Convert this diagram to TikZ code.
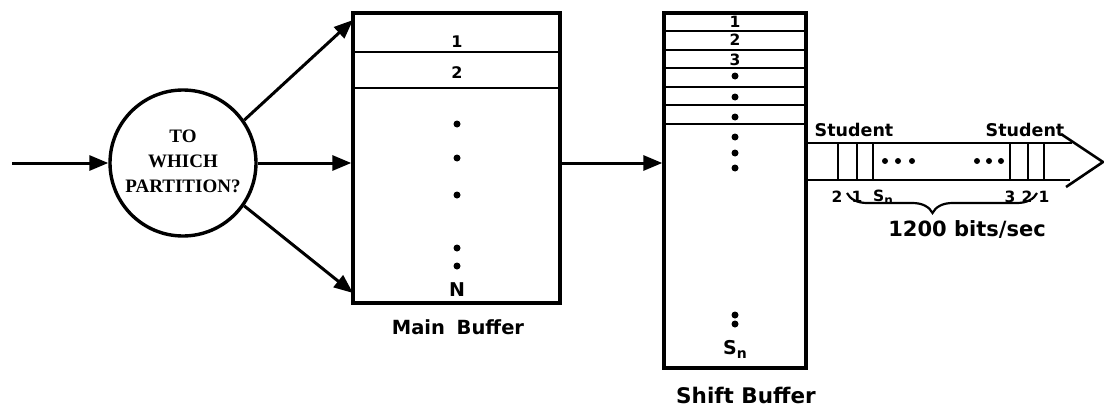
\documentclass[tikz,border=0pt]{standalone}
\usepackage{fontspec}
\setmainfont{DejaVu Sans}
\newfontfamily\labfont{DejaVu Sans Bold}
\newfontfamily\typefont{Liberation Serif Bold}
\usetikzlibrary{arrows.meta,decorations.pathreplacing,calc}
\newcommand{\subn}{\raisebox{-3pt}{\fontsize{12}{12}\selectfont n}}
\begin{document}
\begin{tikzpicture}[x=1pt,y=-1pt,
  thick box/.style={draw,line width=3.4pt,rectangle,inner sep=0pt},
  arr/.style={line width=3pt,-{Triangle[length=19pt,width=15pt]}},
  ln/.style={line width=2.6pt},
  dotm/.style={circle,fill,inner sep=0pt,minimum size=7pt},
  lab/.style={font=\labfont\fontsize{20}{22}\selectfont},
  num/.style={font=\labfont\fontsize{16}{18}\selectfont,inner sep=0pt},
  snum/.style={font=\labfont\fontsize{15.5}{17}\selectfont,inner sep=0pt}]
\useasboundingbox (0,0) rectangle (1104,415);
% circle
\node[draw,circle,line width=3.4pt,minimum size=146pt,inner sep=0pt] (circ) at (183,163) {};
\node[font=\typefont\fontsize{19}{21}\selectfont] (t1) at (183,136) {TO};
\node[font=\typefont\fontsize{19}{21}\selectfont] (t2) at (183,161) {WHICH};
\node[font=\typefont\fontsize{19}{21}\selectfont] (t3) at (183,186) {PARTITION?};
% main buffer
\node[thick box,minimum width=207pt,minimum height=290pt] (main) at (456.5,158) {};
\coordinate (min) at (12,163);
\coordinate (mtop) at (353,20);
\coordinate (mbot) at (353,293);
\draw[arr] (min) -- (circ.west);
\draw[arr] (circ.35) -- (mtop);
\draw[arr] (circ.east) -- (main.west |- circ);
\draw[arr] (circ.-35) -- (mbot);
\draw[ln] (main.west |- 0,52) -- (main.east |- 0,52);
\draw[ln] (main.west |- 0,88) -- (main.east |- 0,88);
\node[num] (m1) at (457,42) {1};
\node[num] (m2) at (457,73) {2};
\foreach \yy [count=\i] in {124,158,195,248,266}
  \node[dotm] (md\i) at (457,\yy) {};
\node[num,font=\labfont\fontsize{19}{20}\selectfont] (mN) at (457,290) {N};
\node[lab,font=\labfont\fontsize{19.5}{22}\selectfont] (mlab) at (458,327) {Main\hspace{0.6em}Buffer};
% shift buffer
\node[thick box,minimum width=142pt,minimum height=355pt] (shift) at (735,190.5) {};
\draw[arr] (main.east |- circ) -- (shift.west |- circ);
\foreach \yy in {31,50,68,87,105,124}
  \draw[ln] (shift.west |- 0,\yy) -- (shift.east |- 0,\yy);
\node[snum] (s1) at (735,22) {1};
\node[snum] (s2) at (735,40) {2};
\node[snum] (s3) at (735,60) {3};
\foreach \yy [count=\i] in {76,97,117,137,153,168,315,324}
  \node[dotm] (sd\i) at (735,\yy) {};
\node[num,font=\labfont\fontsize{19}{20}\selectfont] (sSn) at (735,349) {S\raisebox{-4pt}{\fontsize{14}{14}\selectfont n}};
\node[lab,font=\labfont\fontsize{21.5}{22}\selectfont] (slab) at (746,395) {Shift Buffer};
% tape
\coordinate (ttop) at (1072,143);
\coordinate (tbot) at (1070,180);
\coordinate (hu) at (1061,134);
\coordinate (tip) at (1103,162);
\coordinate (hl) at (1066,187);
\draw[ln] (shift.east |- ttop) -- (ttop);
\draw[ln] (shift.east |- tbot) -- (tbot);
\draw[ln,line join=miter] (hu) -- (tip) -- (hl);
\foreach \xx in {838,857,873,1010,1028,1044}
  \draw[line width=2pt] (\xx,143) -- (\xx,180);
\foreach \xx [count=\i] in {885,898,912,977,989,1001}
  \node[dotm,minimum size=6pt] (td\i) at (\xx,161) {};
\node[lab,font=\labfont\fontsize{17.5}{20}\selectfont] (stu1) at (854,130) {Student};
\node[lab,font=\labfont\fontsize{17.5}{20}\selectfont] (stu2) at (1025,130) {Student};
\node[snum] (b1) at (837,197) {2};
\node[snum] (b2) at (857,197) {1};
\node[snum] (b3) at (883,197) {S\subn};
\node[snum] (b4) at (1010,197) {3};
\node[snum] (b5) at (1027,197) {2};
\node[snum] (b6) at (1044,197) {1};
\coordinate (brL) at (847,193);
\coordinate (brR) at (1037,193);
\draw[line width=2.2pt,decorate,decoration={brace,amplitude=20pt,aspect=0.55}] (brR) -- (brL);
\node[lab,font=\labfont\fontsize{21}{22}\selectfont] (rate) at (967,229) {1200 bits/sec};
\end{tikzpicture}
\end{document}
